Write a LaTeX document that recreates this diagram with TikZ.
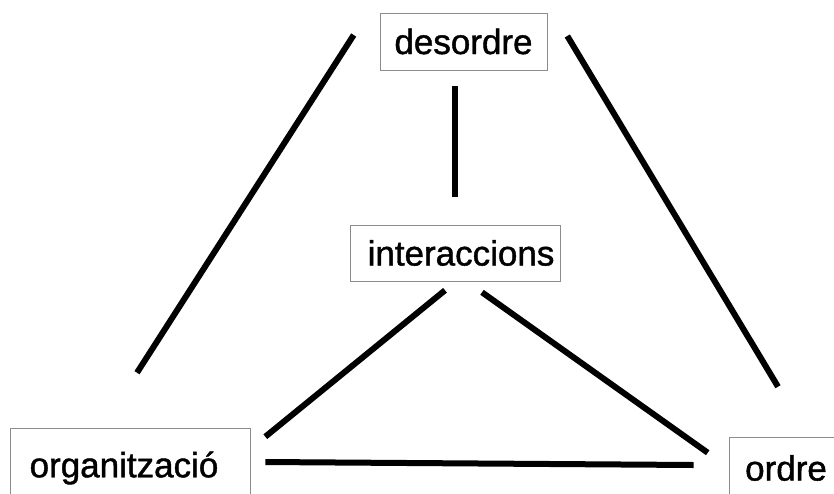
\documentclass[tikz,border=0pt]{standalone}
\usepackage{fontspec}
\setmainfont{Liberation Sans}
\newfontfamily\labelfont{Liberation Sans}[RawFeature={embolden=1.2}]
\usepackage{tikz}
\usetikzlibrary{calc}

\begin{document}
\begin{tikzpicture}[
  x=1pt, y=-1pt,
  box/.style={draw=black!45, line width=0.6pt, inner sep=0pt,
    font=\labelfont\fontsize{35}{40}\selectfont},
  link/.style={line width=6pt}
]
\useasboundingbox (0,0) rectangle (834,493);
\clip (0,0) rectangle (834,493);

\node [box, minimum width=167pt, minimum height=57pt] (desordre) at (463.5,41.5) {desordre};
\node [box, minimum width=210pt, minimum height=56pt] (interaccions) at (455,253) {\hspace*{12pt}interaccions};
\node [box, minimum width=240pt, minimum height=80pt] (organitzacio) at (130,468) {organització\hspace*{12pt}};
\node [box, minimum width=116pt, minimum height=62pt] (ordre) at (787,468) {ordre\hspace*{2pt}};

% outer lines
\draw [link] ($(desordre.west)+(-26,-6.5)$) -- ($(organitzacio.north)+(7,-55)$);
\draw [link] ($(desordre.east)+(20,-5.5)$) -- ($(ordre.north)+(-9,-50)$);
\draw [link] ($(desordre.south)+(-8.5,16)$) -- ($(interaccions.north)+(0,-28)$);

% inner triangle
\draw [link] ($(interaccions.south)+(-10,9)$) -- ($(organitzacio.north east)+(15,9)$);
\draw [link] ($(interaccions.south)+(27,11)$) -- ($(ordre.north west)+(-21,16)$);
\draw [link] ($(organitzacio.east)+(15,-6)$) -- ($(ordre.west)+(-35,-3)$);

\end{tikzpicture}
\end{document}
